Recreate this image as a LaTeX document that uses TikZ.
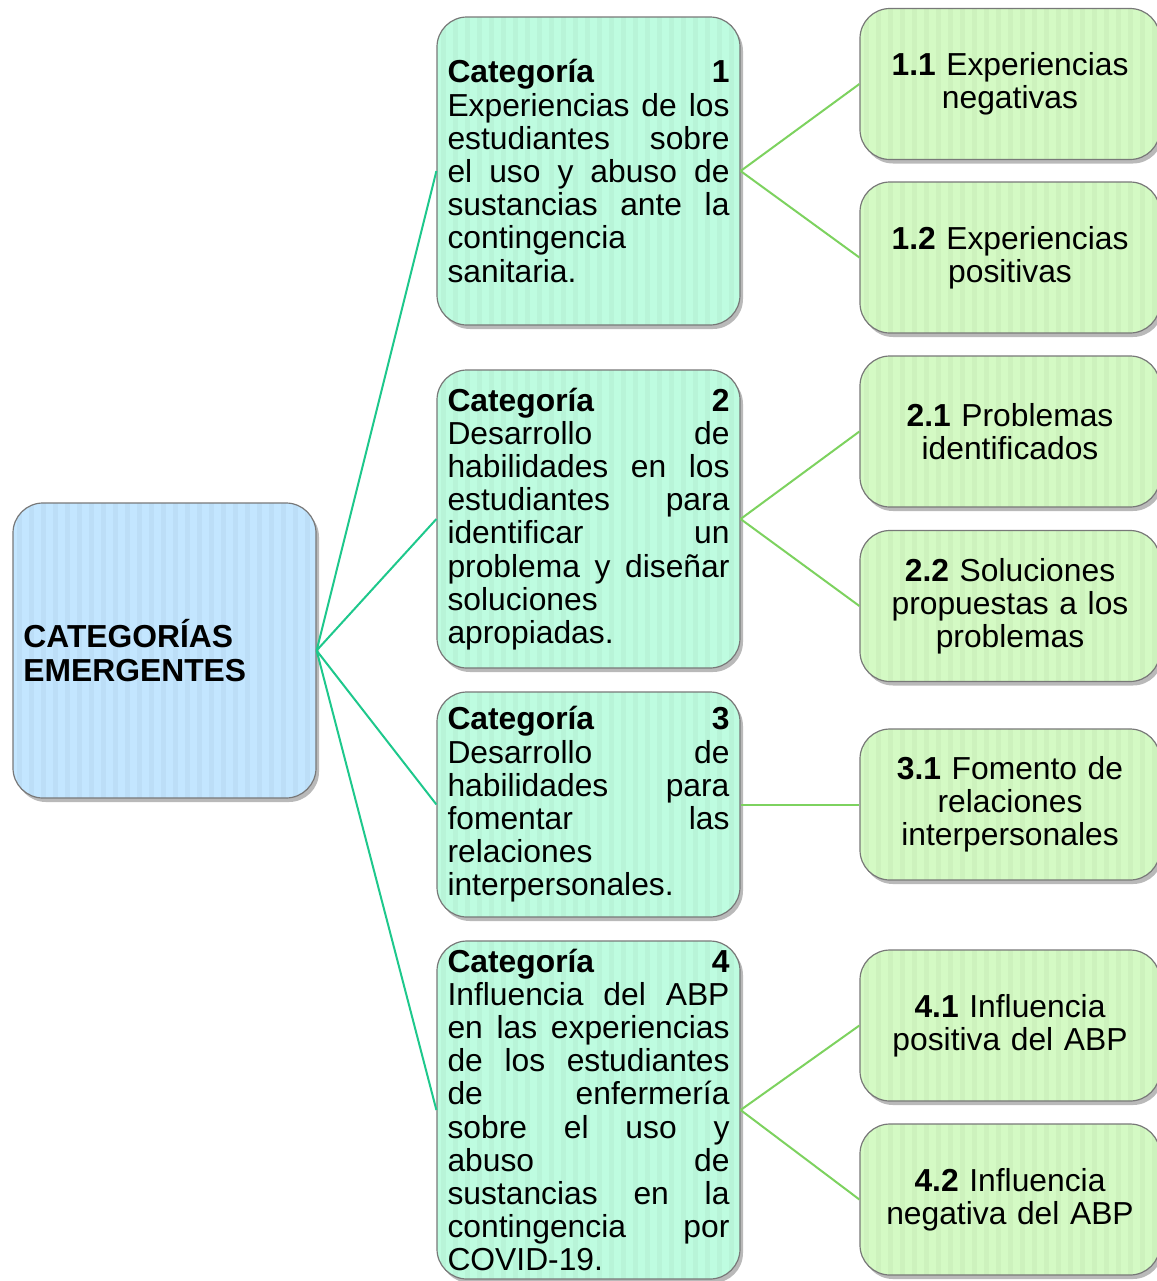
\documentclass[tikz,border=0pt]{standalone}
\usepackage{fontspec}
\setmainfont{Liberation Sans}
\usetikzlibrary{shadows}

\definecolor{raizazul}{RGB}{195,230,255}
\definecolor{catmenta}{RGB}{190,252,224}
\definecolor{subverde}{RGB}{212,250,196}
\definecolor{bordegris}{RGB}{120,120,120}
\definecolor{lineateal}{RGB}{30,200,140}
\definecolor{lineaverde}{RGB}{125,210,95}

\newlength\catw
\setlength\catw{141pt}
\newcommand\jl[1]{\makebox[\catw][s]{\spaceskip=0.278em plus 1fil\relax #1}\\}

\tikzset{
  caja/.style={draw=bordegris, line width=0.6pt, rounded corners=15pt, inner sep=0pt,
    drop shadow={shadow xshift=1.5pt, shadow yshift=-2pt, opacity=.55},
    path picture={\foreach \k in {6,18,...,300}
      \draw[black, opacity=.03, line width=2.5pt]
        ([xshift=\k*0.5pt]path picture bounding box.south west) --
        ([xshift=\k*0.5pt]path picture bounding box.north west);},
    font=\fontsize{15.9}{16.6}\selectfont, minimum width=151.5pt},
  raiz/.style={caja, fill=raizazul, minimum height=147.5pt, text width=141pt, align=left},
  cat/.style={caja, fill=catmenta, text width=\catw, align=left},
  sub/.style={caja, fill=subverde, minimum width=150pt, minimum height=75.5pt, text width=140pt, align=center},
  rama/.style={lineateal, line width=1pt},
  hoja/.style={lineaverde, line width=1pt}
}

\begin{document}
\begin{tikzpicture}[x=0.5pt, y=-0.5pt]
  \useasboundingbox (0,0) rectangle (1157,1281);

  % Root
  \node[raiz] (raiz) at (164.5,650.5) {\textbf{CATEGORÍAS}\\\textbf{EMERGENTES}};

  % Categories
  \node[cat, minimum height=154pt] (c1) at (588.5,171) {%
    \jl{\textbf{Categoría 1}}
    \jl{Experiencias de los}
    \jl{estudiantes sobre}
    \jl{el uso y abuso de}
    \jl{sustancias ante la}
    contingencia\\
    sanitaria.};
  \node[cat, minimum height=149pt] (c2) at (588.5,519) {%
    \jl{\textbf{Categoría 2}}
    \jl{Desarrollo de}
    \jl{habilidades en los}
    \jl{estudiantes para}
    \jl{identificar un}
    \jl{problema y diseñar}
    soluciones\\
    apropiadas.};
  \node[cat, minimum height=112.5pt] (c3) at (588.5,804.5) {%
    \jl{\textbf{Categoría 3}}
    \jl{Desarrollo de}
    \jl{habilidades para}
    \jl{fomentar las}
    relaciones\\
    interpersonales.};
  \node[cat, minimum height=169pt] (c4) at (588.5,1110) {%
    \jl{\textbf{Categoría 4}}
    \jl{Influencia del ABP}
    \jl{en las experiencias}
    \jl{de los estudiantes}
    \jl{de enfermería}
    \jl{sobre el uso y}
    \jl{abuso de}
    \jl{sustancias en la}
    \jl{contingencia por}
    COVID-19.};

  % Subcategories
  \node[sub] (s11) at (1010,84) {\textbf{1.1} Experiencias\\negativas};
  \node[sub] (s12) at (1010,257.5) {\textbf{1.2} Experiencias\\positivas};
  \node[sub] (s21) at (1010,431.5) {\textbf{2.1} Problemas\\identificados};
  \node[sub] (s22) at (1010,606) {\textbf{2.2} Soluciones\\propuestas a los\\problemas};
  \node[sub] (s31) at (1010,804.5) {\textbf{3.1} Fomento de\\relaciones\\interpersonales};
  \node[sub] (s41) at (1010,1025.5) {\textbf{4.1} Influencia\\positiva del ABP};
  \node[sub] (s42) at (1010,1199.5) {\textbf{4.2} Influencia\\negativa del ABP};

  % Connectors
  \foreach \c in {c1,c2,c3,c4}
    \draw[rama] (raiz.east) -- (\c.west);
  \draw[hoja] (c1.east) -- (s11.west);
  \draw[hoja] (c1.east) -- (s12.west);
  \draw[hoja] (c2.east) -- (s21.west);
  \draw[hoja] (c2.east) -- (s22.west);
  \draw[hoja] (c3.east) -- (s31.west);
  \draw[hoja] (c4.east) -- (s41.west);
  \draw[hoja] (c4.east) -- (s42.west);
\end{tikzpicture}
\end{document}
